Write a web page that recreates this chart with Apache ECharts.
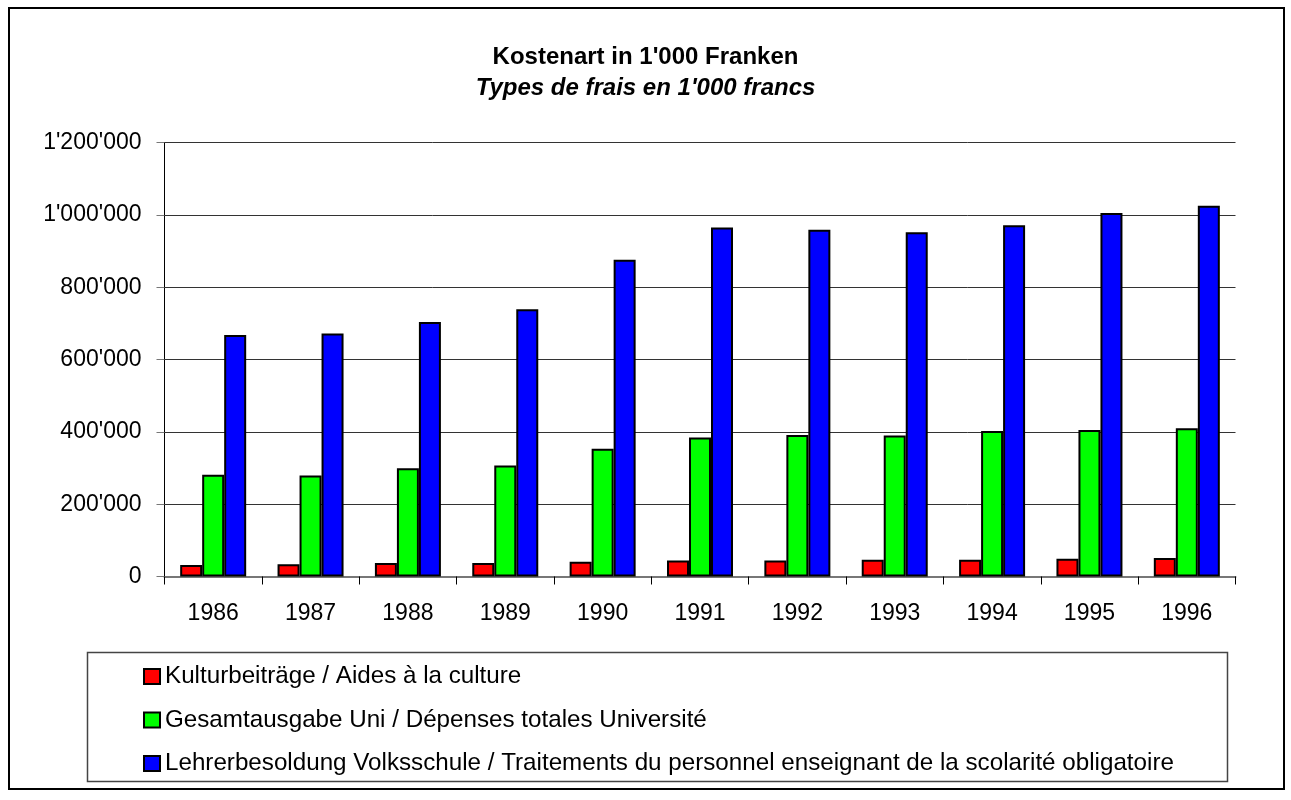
<!DOCTYPE html>
<html>
<head>
<meta charset="utf-8">
<script src="https://cdn.jsdelivr.net/npm/echarts@6/dist/echarts.min.js"></script>
<style>html,body{margin:0;padding:0;background:#fff;}#c{width:1291px;height:800px;}</style>
</head>
<body>
<div id="c"></div>
<script>
var years = ['1986','1987','1988','1989','1990','1991','1992','1993','1994','1995','1996'];
var kultur = [32000, 34000, 37000, 37000, 41000, 44000, 44000, 46000, 46000, 49000, 51000];
var uni = [281000, 279000, 299000, 307000, 353000, 384000, 391000, 390000, 402000, 405000, 410000];
var lehrer = [668000, 672000, 704000, 739000, 876000, 965000, 959000, 952000, 971000, 1005000, 1025000];
var seriesNames = [
  'Kulturbeiträge / Aides à la culture',
  'Gesamtausgabe Uni / Dépenses totales Université',
  'Lehrerbesoldung Volksschule / Traitements du personnel enseignant de la scolarité obligatoire'
];
var FONT = "'Liberation Sans', Arial, Helvetica, sans-serif";
function fmt(v){
  var s = String(Math.round(v));
  return s.replace(/\B(?=(\d{3})+(?!\d))/g, "'");
}
var chart = echarts.init(document.getElementById('c'), null, {renderer:'canvas'});
function bar(name, data, color){
  return {
    name: name, type: 'bar', data: data, barWidth: 22, barGap: '0%',
    itemStyle: {color: color, borderColor: '#000', borderWidth: 2},
    emphasis: {disabled: true}
  };
}
chart.setOption({
  animation: false,
  backgroundColor: '#fff',
  textStyle: {fontFamily: FONT},
  title: {
    text: "Kostenart in 1'000 Franken",
    subtext: "Types de frais en 1'000 francs",
    left: 'center', top: 45, itemGap: 6, padding: 0,
    textStyle: {fontFamily: FONT, fontSize: 24, fontWeight: 'bold', color: '#000', lineHeight: 25},
    subtextStyle: {fontFamily: FONT, fontSize: 24, fontWeight: 'bold', fontStyle: 'italic', color: '#000', lineHeight: 25}
  },
  graphic: [
    {type: 'rect', shape: {x: 9, y: 8, width: 1275, height: 781}, style: {fill: 'none', stroke: '#000', lineWidth: 2}, z: 100},
    {type: 'rect', shape: {x: 87.5, y: 652.5, width: 1140, height: 129}, style: {fill: 'none', stroke: '#444', lineWidth: 1.5}, z: 100}
  ],
  legend: {
    orient: 'vertical', left: 143, top: 664, padding: 0,
    itemWidth: 16, itemHeight: 15, itemGap: 18.5,
    icon: 'rect',
    itemStyle: {borderColor: '#000', borderWidth: 2},
    textStyle: {fontFamily: FONT, fontSize: 24.2, lineHeight: 25, color: '#000'},
    selectedMode: false,
    data: seriesNames
  },
  grid: {left: 164.5, right: 55.5, top: 142.5, bottom: 223.5, containLabel: false},
  xAxis: {
    type: 'category', data: years,
    axisLine: {lineStyle: {color: '#777', width: 2}},
    axisTick: {show: true, length: 8, lineStyle: {color: '#000'}},
    axisLabel: {fontFamily: FONT, fontSize: 23, color: '#000', margin: 26}
  },
  yAxis: {
    type: 'value', min: 0, max: 1200000, interval: 200000,
    axisLine: {show: true, lineStyle: {color: '#000', width: 1}},
    axisTick: {show: true, length: 8, lineStyle: {color: '#777'}},
    axisLabel: {fontFamily: FONT, fontSize: 23, color: '#000', margin: 23, formatter: fmt},
    splitLine: {show: true, lineStyle: {color: '#333', width: 1}}
  },
  series: [
    bar(seriesNames[0], kultur, '#FF0000'),
    bar(seriesNames[1], uni, '#00FF00'),
    bar(seriesNames[2], lehrer, '#0000FF')
  ]
});
</script>
</body>
</html>
